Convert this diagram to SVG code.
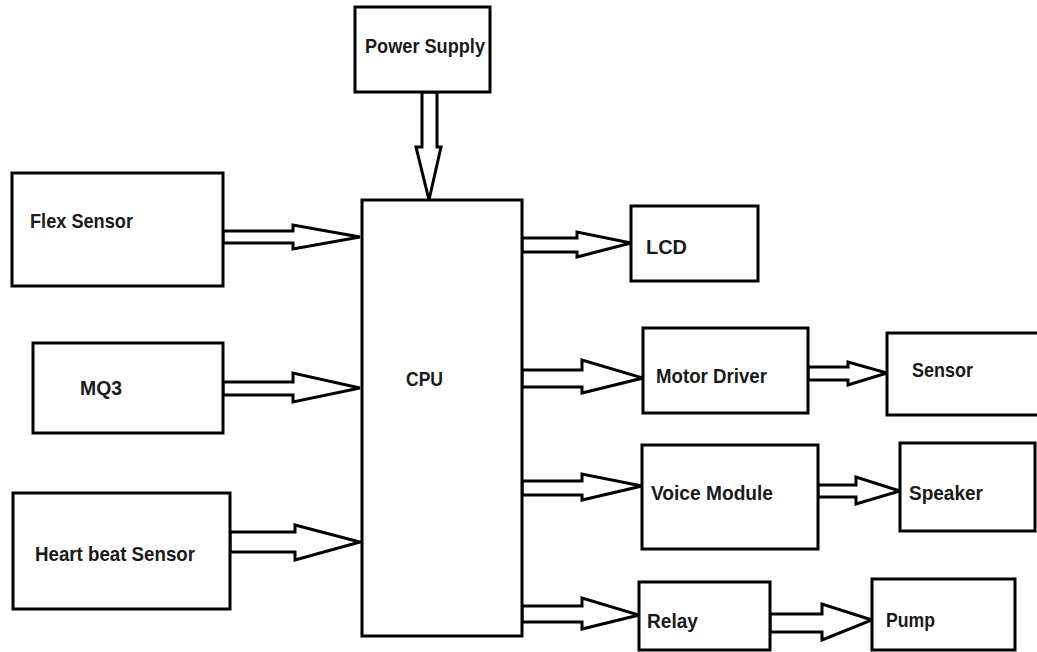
<svg xmlns="http://www.w3.org/2000/svg" width="1037" height="652" viewBox="0 0 1037 652">
<style>
.box{fill:#fff;stroke:#000;stroke-width:3}
.arr{fill:#fff;stroke:#000;stroke-width:3;stroke-linejoin:miter}
.lbl{font-family:"Liberation Sans",Arial,sans-serif;font-weight:bold;font-size:21px;fill:#1a1a1a}
</style>
<rect width="1037" height="652" fill="#fff"/>
<g id="connectors">
<path class="arr" d="M422,92 V147 H416 L429,200 L441,147 H437 V92 Z"/>
<path class="arr" d="M223,231 H293 V225 L360,237 L293,249 V243 H223 Z"/>
<path class="arr" d="M223,382 H293 V373 L360,388 L293,402 V395 H223 Z"/>
<path class="arr" d="M230,532 H295 V525 L360,542 L295,560 V552 H230 Z"/>
<path class="arr" d="M522,238 H577 V232 L631,243 L577,257 V252 H522 Z"/>
<path class="arr" d="M522,370 H582 V360 L643,378 L582,393 V387 H522 Z"/>
<path class="arr" d="M808,367 H848 V362 L887,373 L848,385 V380 H808 Z"/>
<path class="arr" d="M522,481 H582 V474 L642,486 L582,500 V495 H522 Z"/>
<path class="arr" d="M818,485 H856 V477 L900,491 L856,504 V497 H818 Z"/>
<path class="arr" d="M522,606 H582 V598 L639,615 L582,629 V622 H522 Z"/>
<path class="arr" d="M770,614 H822 V604 L872,620 L822,640 V632 H770 Z"/>
</g>
<g id="power-supply"><rect class="box" x="355" y="7" width="135" height="85"/><text class="lbl" x="365" y="53" textLength="120" lengthAdjust="spacingAndGlyphs">Power Supply</text></g>
<g id="flex-sensor"><rect class="box" x="12" y="173" width="211" height="113"/><text class="lbl" x="30" y="228" textLength="103" lengthAdjust="spacingAndGlyphs">Flex Sensor</text></g>
<g id="mq3"><rect class="box" x="33" y="343" width="190" height="90"/><text class="lbl" x="80" y="395" textLength="42" lengthAdjust="spacingAndGlyphs">MQ3</text></g>
<g id="heart-beat-sensor"><rect class="box" x="13" y="493" width="217" height="116"/><text class="lbl" x="35" y="561" textLength="160" lengthAdjust="spacingAndGlyphs">Heart beat Sensor</text></g>
<g id="cpu"><rect class="box" x="362" y="200" width="160" height="436"/><text class="lbl" x="406" y="386" textLength="37" lengthAdjust="spacingAndGlyphs">CPU</text></g>
<g id="lcd"><rect class="box" x="631" y="206" width="127" height="75"/><text class="lbl" x="646" y="254" textLength="41" lengthAdjust="spacingAndGlyphs">LCD</text></g>
<g id="motor-driver"><rect class="box" x="643" y="328" width="165" height="85"/><text class="lbl" x="656" y="383" textLength="111" lengthAdjust="spacingAndGlyphs">Motor Driver</text></g>
<g id="sensor"><rect class="box" x="887" y="333" width="165" height="82"/><text class="lbl" x="912" y="377" textLength="61" lengthAdjust="spacingAndGlyphs">Sensor</text></g>
<g id="voice-module"><rect class="box" x="642" y="445" width="176" height="104"/><text class="lbl" x="651" y="500" textLength="122" lengthAdjust="spacingAndGlyphs">Voice Module</text></g>
<g id="speaker"><rect class="box" x="900" y="443" width="135" height="88"/><text class="lbl" x="909" y="500" textLength="74" lengthAdjust="spacingAndGlyphs">Speaker</text></g>
<g id="relay"><rect class="box" x="639" y="582" width="131" height="68"/><text class="lbl" x="647" y="628" textLength="51" lengthAdjust="spacingAndGlyphs">Relay</text></g>
<g id="pump"><rect class="box" x="872" y="579" width="143" height="71"/><text class="lbl" x="886" y="627" textLength="49" lengthAdjust="spacingAndGlyphs">Pump</text></g>
</svg>
